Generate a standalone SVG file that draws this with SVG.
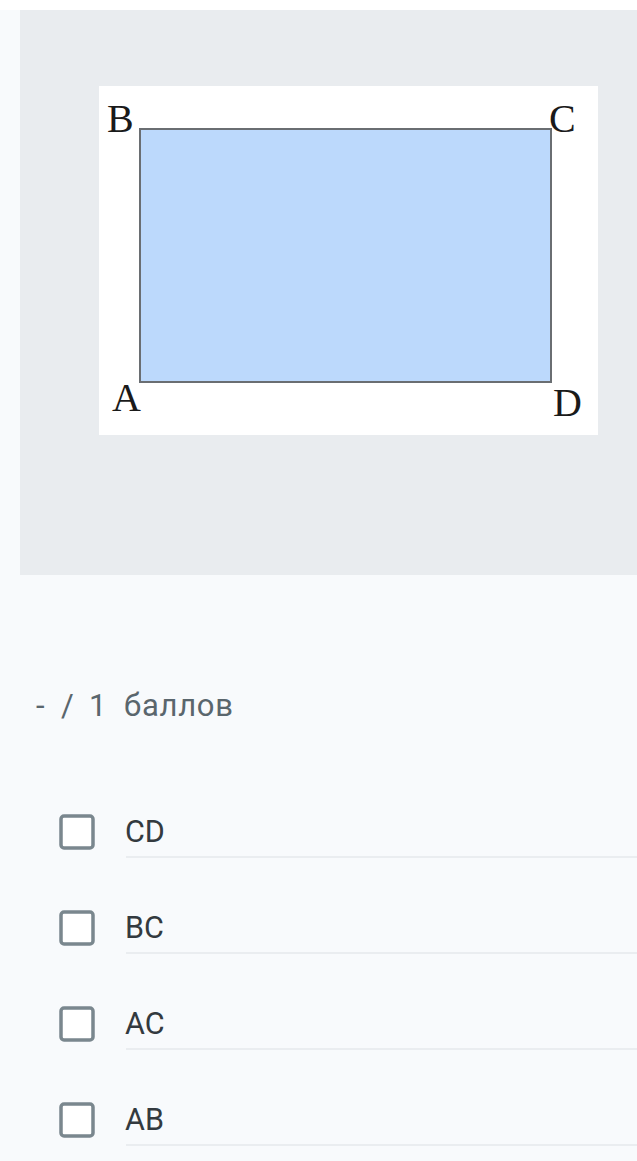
<svg xmlns="http://www.w3.org/2000/svg" width="637" height="1161" viewBox="0 0 637 1161">
<style>
.lbl{font-family:"Liberation Serif","DejaVu Serif",serif;font-size:40px;fill:#1a1a1a}
.opt{font-family:Roboto,"Liberation Sans",sans-serif;font-size:30.5px;fill:#333a3f}
.sc{font-family:Roboto,"Liberation Sans",sans-serif;font-size:31px;fill:#5a666d}
.cb{fill:#ffffff;stroke:#7a878e;stroke-width:3.5}
.ul{stroke:#e6e9ec;stroke-width:1.5}
</style>
<rect x="0" y="0" width="637" height="1161" fill="#f8fafc"/>
<rect x="0" y="0" width="637" height="10" fill="#ffffff"/>
<rect x="20" y="10" width="617" height="565" fill="#e9ecef"/>
<g id="figure">
<rect x="99" y="86" width="499" height="349" fill="#ffffff"/>
<rect x="140" y="129" width="411" height="253" fill="#bcd9fc" stroke="#6a6e72" stroke-width="2"/>
<text class="lbl" x="107" y="132">B</text>
<text class="lbl" x="549" y="132">C</text>
<text class="lbl" x="112" y="411">A</text>
<text class="lbl" x="553" y="416">D</text>
</g>
<g id="score">
<text class="sc" x="36" y="716">-</text>
<text class="sc" x="61" y="716">/</text>
<text class="sc" x="89" y="716">1</text>
<text class="sc" x="124" y="716" textLength="109">баллов</text>
</g>
<g id="opt1">
<rect class="cb" x="61" y="816" width="32" height="32" rx="3"/>
<text class="opt" x="125" y="842">CD</text>
<line class="ul" x1="126" y1="857" x2="637" y2="857"/>
</g>
<g id="opt2">
<rect class="cb" x="61" y="912" width="32" height="32" rx="3"/>
<text class="opt" x="125" y="938">BC</text>
<line class="ul" x1="126" y1="953" x2="637" y2="953"/>
</g>
<g id="opt3">
<rect class="cb" x="61" y="1008" width="32" height="32" rx="3"/>
<text class="opt" x="125" y="1034">AC</text>
<line class="ul" x1="126" y1="1049" x2="637" y2="1049"/>
</g>
<g id="opt4">
<rect class="cb" x="61" y="1104" width="32" height="32" rx="3"/>
<text class="opt" x="125" y="1130">AB</text>
<line class="ul" x1="126" y1="1145" x2="637" y2="1145"/>
</g>
</svg>
